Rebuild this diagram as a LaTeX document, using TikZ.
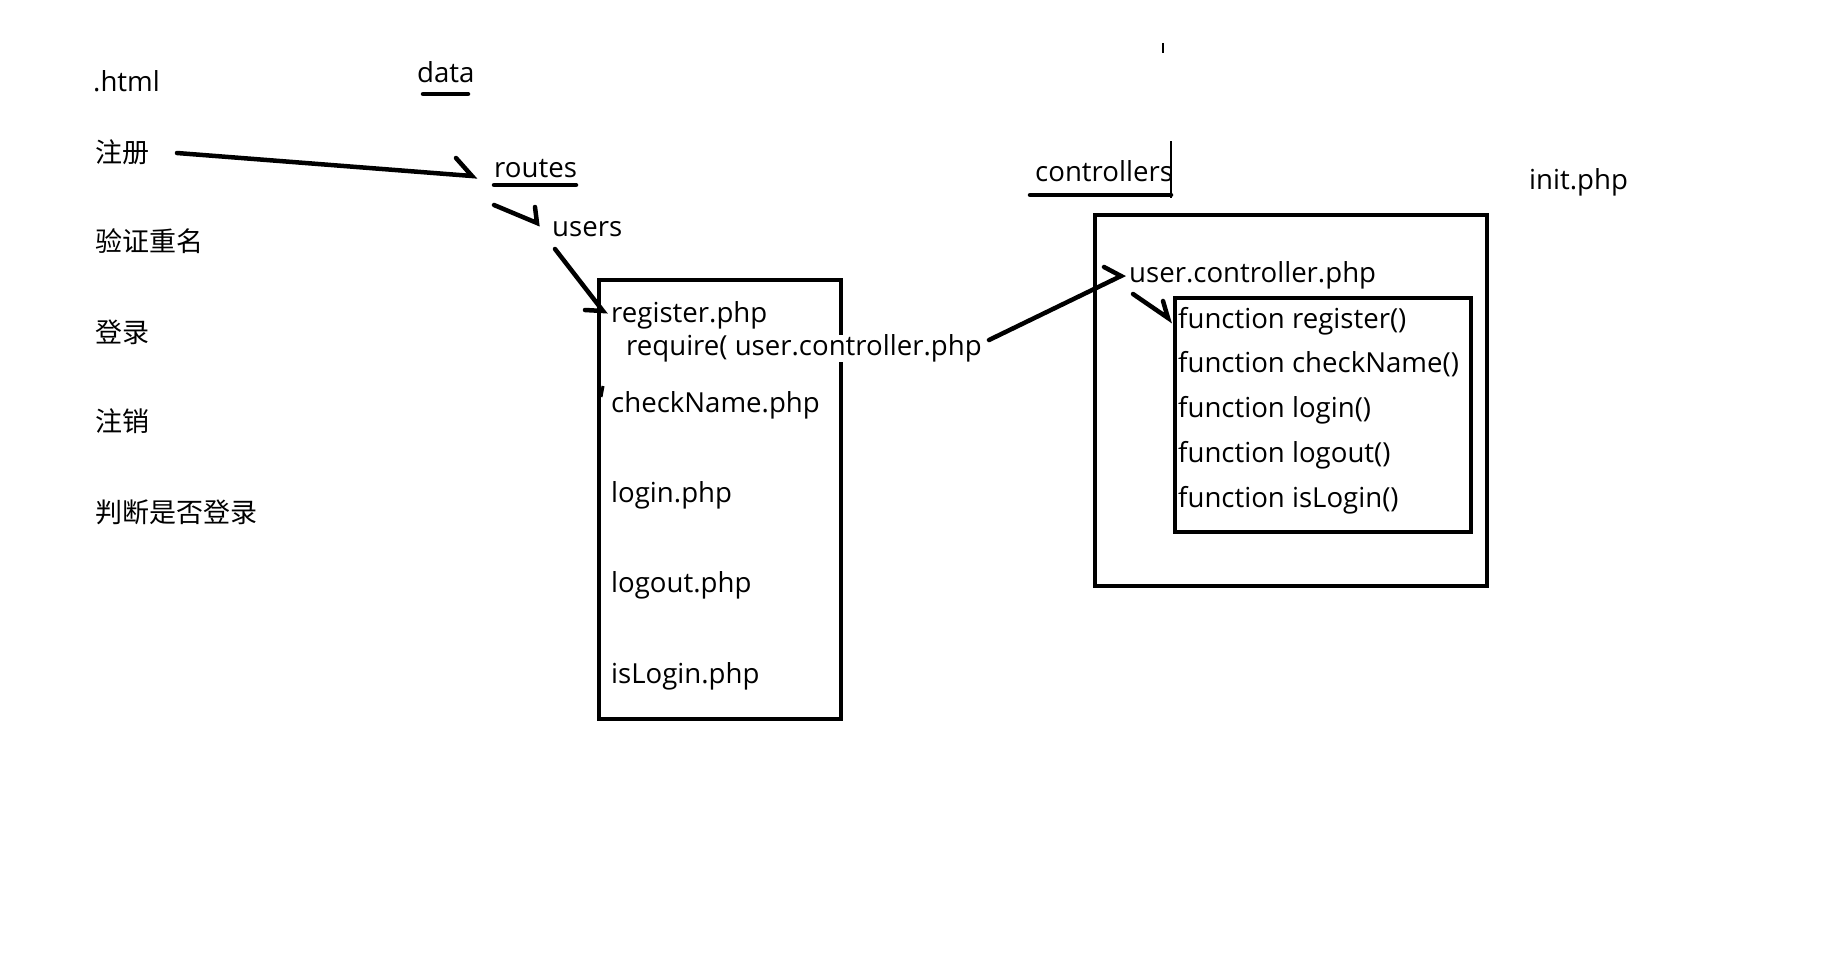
\documentclass[tikz,border=0pt]{standalone}
\usepackage{fontspec}
\setmainfont{Open Sans}
\newfontfamily\cjk{Noto Sans CJK SC}
\begin{document}
\begin{tikzpicture}[x=1pt,y=-1pt,
  pen/.style={line width=4.5pt,line cap=round},
  thin/.style={line width=1.2pt},
  lbl/.style={anchor=mid west,inner sep=0pt,yshift=-8pt,font=\fontsize{27.6}{32}\selectfont},
  zh/.style={anchor=mid west,inner sep=0pt,yshift=-8pt,font=\cjk\fontsize{27}{32}\selectfont}]
\useasboundingbox (0,0) rectangle (1844,974);
\fill[white] (0,0) rectangle (1844,974);

% left column
\node[lbl] (html) at (93,81) {.html};
\node[zh] (zc) at (95,152) {注册};
\node[zh] (yz) at (95,241) {验证重名};
\node[zh] (dl) at (95,332) {登录};
\node[zh] (zx) at (95,421) {注销};
\node[zh] (pd) at (95,512) {判断是否登录};

% data / routes / users
\node[lbl] (data) at (417,72) {data};
\draw[pen] (423,94) -- (468,94);
\node[lbl] (routes) at (494,167) {routes};
\draw[pen] (494,185) -- (576,185);
\node[lbl] (users) at (552,226) {users};

% routes box
\draw[pen,line cap=butt] (599,280) rectangle (841,719);
\node[lbl] (reg) at (611,312) {register.php};
\node[lbl,fill=white] (req) at (626,345) {require( user.controller.php};
\node[lbl] (chk) at (611,402) {checkName.php};
\node[lbl] (login) at (611,492) {login.php};
\node[lbl] (logout) at (611,582) {logout.php};
\node[lbl] (islogin) at (611,673) {isLogin.php};
\draw[line width=3pt] (603,386) -- (601,397);

% controllers
\node[lbl] (ctrl) at (1035,171) {controllers};
\draw[pen] (1030,195) -- (1171,195);
\draw[thin] (1171,141) -- (1171,198);
\draw[thin] (1163,43) -- (1163,53);
\node[lbl] (init) at (1529,179) {init.php};
\draw[pen,line cap=butt] (1095,215) rectangle (1487,586);
\node[lbl] (uc) at (1129,272) {user.controller.php};
\draw[pen,line cap=butt] (1175,298) rectangle (1471,532);
\node[lbl] (f1) at (1178,318) {function register()};
\node[lbl] (f2) at (1178,362) {function checkName()};
\node[lbl] (f3) at (1178,407) {function login()};
\node[lbl] (f4) at (1178,452) {function logout()};
\node[lbl] (f5) at (1178,497) {function isLogin()};

% connectors (hand-drawn half arrows)
\coordinate (a1s) at (177,153); \coordinate (a1t) at (472,176); \coordinate (a1b) at (456,158);
\draw[pen] (a1s) -- (a1t) -- (a1b);
\coordinate (a2s) at (494,205); \coordinate (a2t) at (537,223); \coordinate (a2b) at (535,207);
\draw[pen] (a2s) -- (a2t) -- (a2b);
\coordinate (a3s) at (555,249); \coordinate (a3t) at (603,311); \coordinate (a3b) at (585,310);
\draw[pen] (a3s) -- (a3t) -- (a3b);
\coordinate (a4s) at (989,340); \coordinate (a4t) at (1121,276); \coordinate (a4b) at (1104,267);
\draw[pen] (a4s) -- (a4t) -- (a4b);
\coordinate (a5s) at (1133,294); \coordinate (a5t) at (1168,318); \coordinate (a5b) at (1163,301);
\draw[pen] (a5s) -- (a5t) -- (a5b);
\end{tikzpicture}
\end{document}
